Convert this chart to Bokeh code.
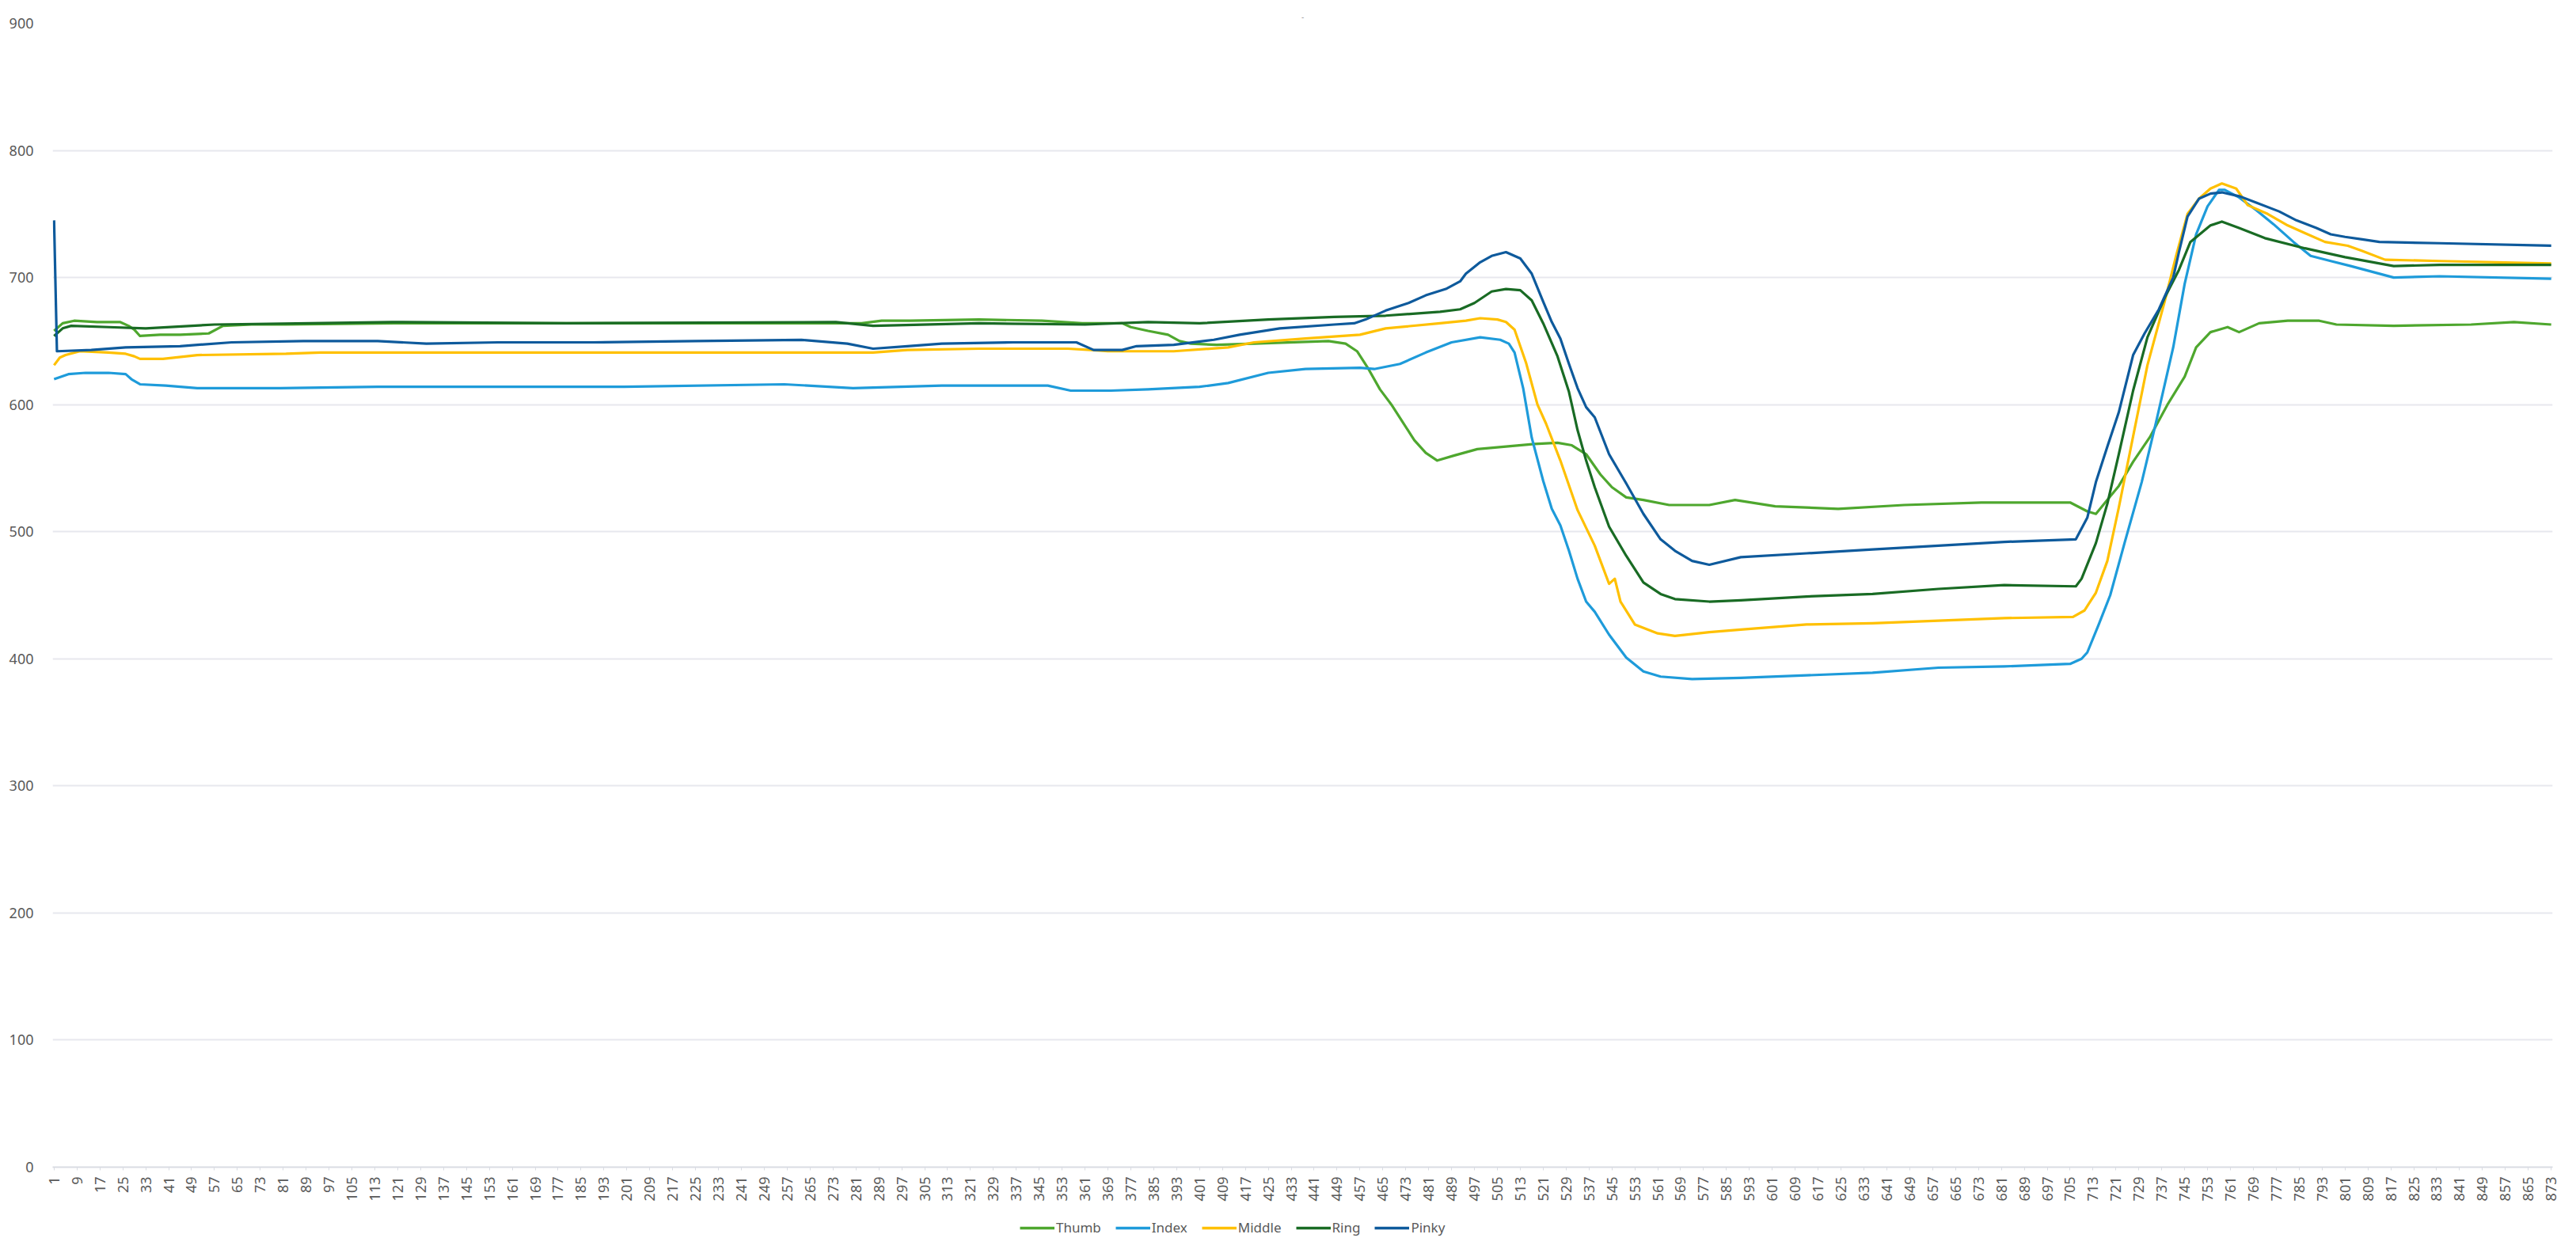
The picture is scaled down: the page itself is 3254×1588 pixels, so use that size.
from bokeh.plotting import figure
from bokeh.layouts import column
from bokeh.models import Range1d, FixedTicker, Legend, LegendItem, Title
from bokeh.embed import file_html
from bokeh.resources import INLINE
import math

# ---------------- data ----------------
x_ticks = list(range(1, 874, 8))

thumb_x = [1, 4, 8, 16, 24, 27, 29, 31, 38, 45, 55, 60, 70, 82, 120, 180, 250, 283, 290, 300, 324, 346,
           360, 374, 377, 383, 390, 394, 398, 407, 420, 446, 452, 456, 460, 464, 468, 472, 476, 480, 484,
           490, 498, 508, 518, 526, 531, 536, 541, 545, 550, 556, 565, 579, 588, 602, 624, 647, 674,
           705, 711, 714, 718, 722, 727, 733, 739, 745, 749, 754, 760, 764, 771, 781, 792, 798, 818, 845,
           860, 873]
thumb_y = [658, 664, 666, 665, 665, 662, 659, 654, 655, 655, 656, 662, 663, 663, 664, 664, 664, 664, 666, 666, 667, 666,
           664, 664, 661, 658, 655, 650, 648, 647, 648, 650, 648, 642, 628, 612, 600, 586, 572, 562, 556,
           560, 565, 567, 569, 570, 568, 561, 545, 535, 527, 525, 521, 521, 525, 520, 518, 521, 523,
           523, 516, 514, 525, 536, 555, 575, 600, 622, 645, 657, 661, 657, 664, 666, 666, 663, 662, 663,
           665, 663]

index_x = [1, 6, 12, 20, 26, 28, 31, 40, 51, 80, 114, 144, 200, 256, 280, 311, 348, 356, 370, 383, 401,
           411, 425, 438, 457, 462, 471, 480, 489, 499, 506, 509, 511, 514, 517, 521, 524, 527, 530, 533,
           536, 539, 544, 550, 556, 562, 573, 590, 613, 636, 659, 682, 705, 709, 711, 715, 719, 724, 730,
           735, 741, 745, 749, 753, 757, 759, 764, 770, 776, 783, 789, 796, 803, 818, 834, 873]
index_y = [620, 624, 625, 625, 624, 620, 616, 615, 613, 613, 614, 614, 614, 616, 613, 615, 615, 611, 611, 612, 614,
           617, 625, 628, 629, 628, 632, 641, 649, 653, 651, 648, 641, 613, 574, 540, 518, 505, 485, 463,
           445, 437, 419, 401, 390, 386, 384, 385, 387, 389, 393, 394, 396, 400, 405, 427, 450, 491, 539,
           586, 645, 695, 734, 756, 769, 769, 763, 753, 742, 728, 717, 713, 709, 700, 701, 699]

middle_x = [1, 3, 5, 10, 20, 26, 29, 31, 39, 51, 82, 94, 150, 287, 299, 324, 355, 363, 369, 392, 411, 420,
            438, 457, 466, 485, 494, 499, 505, 508, 511, 515, 519, 522, 527, 533, 539, 544, 546, 548, 553,
            561, 567, 579, 590, 613, 636, 659, 682, 706, 710, 714, 718, 722, 727, 732, 738, 742, 746, 750,
            754, 758, 763, 767, 774, 781, 787, 794, 802, 807, 815, 834, 873]
middle_y = [631, 637, 639, 642, 641, 640, 638, 636, 636, 639, 640, 641, 641, 641, 643, 644, 644, 643, 642, 642, 645, 649,
            652, 655, 660, 664, 666, 668, 667, 665, 659, 633, 600, 585, 556, 517, 489, 459, 463, 445, 427,
            420, 418, 421, 423, 427, 428, 430, 432, 433, 438, 452, 477, 519, 575, 631, 681, 717, 750, 762,
            770, 774, 770, 757, 750, 741, 735, 728, 725, 721, 714, 713, 711]

ring_x = [1, 4, 7, 20, 33, 57, 119, 180, 274, 287, 324, 361, 383, 401, 425, 448, 466, 485, 492, 497, 503,
          508, 513, 517, 521, 526, 530, 533, 536, 539, 544, 550, 556, 562, 567, 579, 590, 613, 636, 659, 682,
          707, 709, 714, 718, 722, 727, 732, 738, 743, 747, 754, 758, 764, 773, 787, 801, 818, 834, 873]
ring_y = [654, 660, 662, 661, 660, 663, 665, 664, 665, 662, 664, 663, 665, 664, 667, 669, 670, 673, 675, 680, 689,
          691, 690, 682, 664, 638, 610, 580, 556, 535, 504, 481, 460, 451, 447, 445, 446, 449, 451, 455, 458,
          457, 463, 491, 522, 561, 611, 653, 684, 706, 728, 741, 744, 739, 731, 723, 716, 709, 710, 710]

pinky_x = [1, 2, 14, 26, 45, 63, 88, 114, 131, 156, 189, 225, 262, 278, 287, 299, 311, 336, 358, 364, 374,
           379, 392, 406, 415, 429, 448, 455, 459, 466, 474, 480, 487, 492, 494, 499, 503, 508, 513, 517,
           521, 524, 527, 530, 533, 536, 539, 544, 550, 556, 562, 567, 573, 579, 590, 613, 636, 659, 682,
           707, 711, 714, 718, 722, 727, 731, 736, 741, 743, 746, 750, 754, 758, 764, 770, 778, 784, 791,
           796, 801, 807, 813, 834, 873]
pinky_y = [745, 642, 643, 645, 646, 649, 650, 650, 648, 649, 649, 650, 651, 648, 644, 646, 648, 649, 649, 643, 643,
           646, 647, 651, 655, 660, 663, 664, 667, 674, 680, 686, 691, 697, 703, 712, 717, 720, 715, 703,
           681, 665, 652, 632, 613, 598, 590, 561, 538, 514, 494, 485, 477, 474, 480, 483, 486, 489, 492,
           494, 511, 539, 567, 594, 639, 656, 675, 700, 720, 748, 762, 766, 767, 764, 759, 752, 745, 739,
           734, 732, 730, 728, 727, 725]

series = [
    ("Thumb", thumb_x, thumb_y, "#4EA72E"),
    ("Index", index_x, index_y, "#1E9BDA"),
    ("Middle", middle_x, middle_y, "#FFC000"),
    ("Ring", ring_x, ring_y, "#196B24"),
    ("Pinky", pinky_x, pinky_y, "#0E5A9C"),
]

FONT = "Noto Sans"
GRAY = "#595959"
W = 3238
MAIN_H = 1525
LEG_H = 47

p = figure(width=W, height=MAIN_H,
           x_range=Range1d(0.5, 873.5), y_range=Range1d(0, 900),
           output_backend="svg", toolbar_location=None,
           min_border_left=66, min_border_right=14, min_border_top=29,
           min_border_bottom=MAIN_H - 29 - 1445)
p.outline_line_color = None
p.background_fill_color = "white"
p.border_fill_color = "white"

p.add_layout(Title(text="-", align="center", text_font_size="10px",
                   text_color="#9a9a9a", text_font=FONT, text_font_style="normal"), "above")

# grid
p.xgrid.grid_line_color = None
p.ygrid.grid_line_color = "#E7E8EE"
p.ygrid.grid_line_width = 2
p.yaxis.ticker = FixedTicker(ticks=[0, 100, 200, 300, 400, 500, 600, 700, 800, 900])

# axes
p.yaxis.axis_line_color = None
p.yaxis.major_tick_line_color = None
p.yaxis.minor_tick_line_color = None
p.yaxis.major_label_text_font = FONT
p.yaxis.major_label_text_font_size = "18px"
p.yaxis.major_label_text_color = GRAY
p.yaxis.major_label_standoff = 18

p.xaxis.ticker = FixedTicker(ticks=x_ticks)
p.xaxis.major_label_overrides = {t: str(t) for t in x_ticks}
p.xaxis.major_label_orientation = math.pi / 2
p.xaxis.axis_line_color = "#D9DCE3"
p.xaxis.axis_line_width = 2
p.xaxis.major_tick_line_color = "#D9DCE3"
p.xaxis.major_tick_in = 0
p.xaxis.major_tick_out = 4
p.xaxis.minor_tick_line_color = None
p.xaxis.major_label_text_font = FONT
p.xaxis.major_label_text_font_size = "18px"
p.xaxis.major_label_text_color = GRAY
p.xaxis.major_label_standoff = 8

for name, xs, ys, col in series:
    p.line(xs, ys, line_color=col, line_width=3.2, line_join="round")

# legend strip under the chart (series drawn again here but outside the visible range;
# only their legend swatches show)
lg = figure(width=W, height=LEG_H, x_range=Range1d(-20, -10), y_range=Range1d(-20, -10),
            output_backend="svg", toolbar_location=None,
            min_border_left=0, min_border_right=0, min_border_top=0, min_border_bottom=0)
lg.outline_line_color = None
lg.axis.visible = False
lg.grid.grid_line_color = None
items = []
for name, xs, ys, col in series:
    r = lg.line(xs, ys, line_color=col, line_width=3.6)
    items.append(LegendItem(label=name, renderers=[r]))
legend = Legend(items=items, orientation="horizontal", location=(1222, 10),
                border_line_color=None, background_fill_alpha=0,
                label_text_font=FONT, label_text_font_size="17px", label_text_color=GRAY,
                glyph_width=44, glyph_height=20, label_standoff=2, spacing=18,
                padding=0, margin=0)
lg.add_layout(legend, "center")

open("out.html", "w").write(file_html(column(p, lg, spacing=0), INLINE))
